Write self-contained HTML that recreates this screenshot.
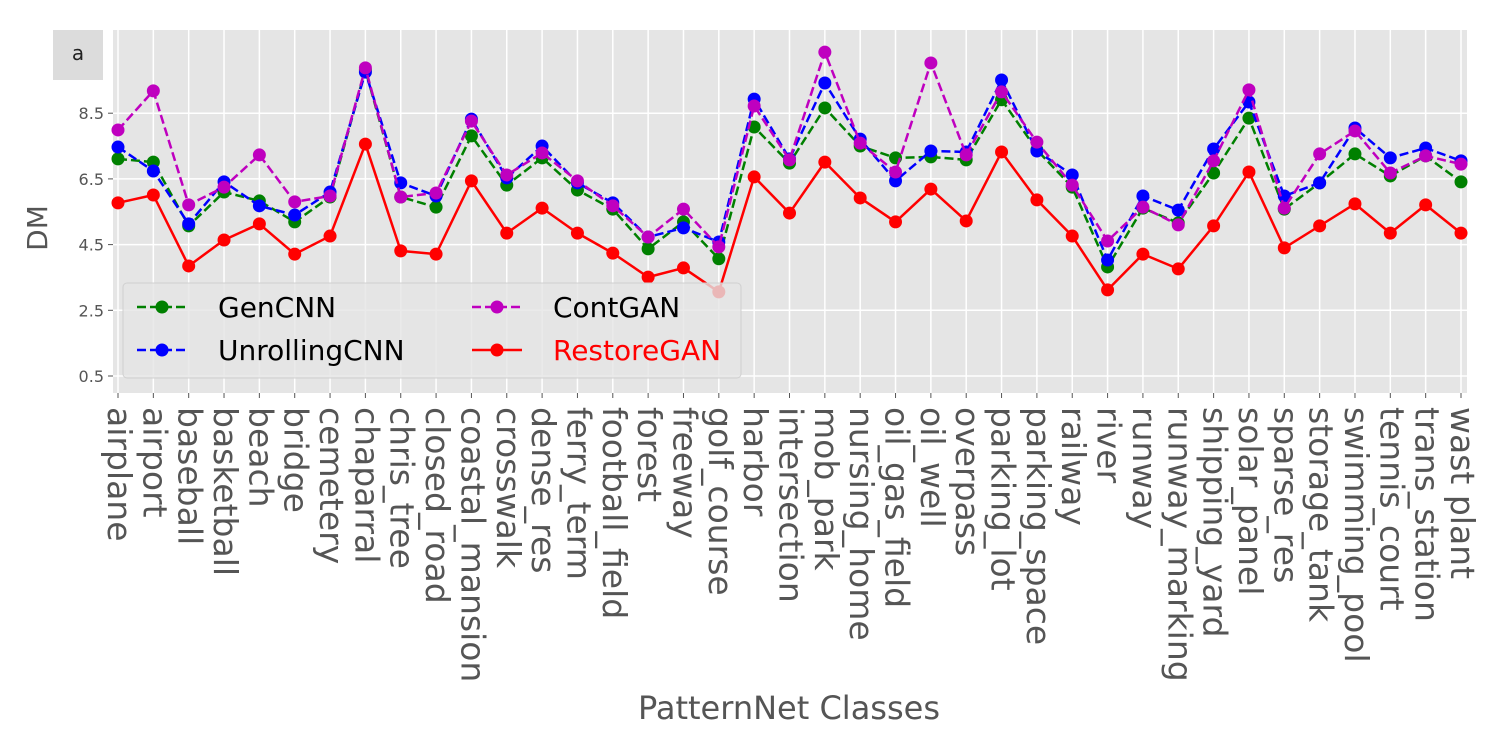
<!DOCTYPE html>
<html><head><meta charset="utf-8"><style>
body{margin:0;background:#fff;}
svg text{font-family:"DejaVu Sans","Liberation Sans",sans-serif;}
</style></head><body>
<svg id="chart" width="1500" height="750" xmlns="http://www.w3.org/2000/svg">
<rect x="53" y="30" width="50" height="50" fill="#dcdcdc"/>
<text x="78" y="60" font-size="20" text-anchor="middle" fill="#222">a</text>
<rect x="113" y="30" width="1354" height="363" fill="#e5e5e5"/>
<g id="grid"></g><g id="series"></g><g id="ticks"></g>
<text x="47" y="228" font-size="28" fill="#555" text-anchor="middle" transform="rotate(-90 47 228)">DM</text>
<text x="789" y="719" font-size="32" fill="#555" text-anchor="middle">PatternNet Classes</text>
<g>
<rect x="123" y="283" width="618" height="95" rx="4" fill="rgba(229,229,229,0.8)" stroke="#d0d0d0"/>
<g><line x1="137" y1="307" x2="187" y2="307" stroke="green" stroke-width="2.5" stroke-dasharray="9,4"/><circle cx="162" cy="307" r="6.5" fill="green"/><text x="218" y="317" font-size="28" fill="#000">GenCNN</text></g>
<g><line x1="137" y1="350" x2="187" y2="350" stroke="blue" stroke-width="2.5" stroke-dasharray="9,4"/><circle cx="162" cy="350" r="6.5" fill="blue"/><text x="218" y="360" font-size="28" fill="#000">UnrollingCNN</text></g>
<g><line x1="472" y1="307" x2="522" y2="307" stroke="#bf00bf" stroke-width="2.5" stroke-dasharray="9,4"/><circle cx="497" cy="307" r="6.5" fill="#bf00bf"/><text x="553" y="317" font-size="28" fill="#000">ContGAN</text></g>
<g><line x1="472" y1="350" x2="522" y2="350" stroke="red" stroke-width="2.5"/><circle cx="497" cy="350" r="6.5" fill="red"/><text x="553" y="360" font-size="28" fill="red">RestoreGAN</text></g>
</g>
</svg>
<script>
const categories=["airplane","airport","baseball","basketball","beach","bridge","cemetery","chaparral","chris_tree","closed_road","coastal_mansion","crosswalk","dense_res","ferry_term","football_field","forest","freeway","golf_course","harbor","intersection","mob_park","nursing_home","oil_gas_field","oil_well","overpass","parking_lot","parking_space","railway","river","runway","runway_marking","shipping_yard","solar_panel","sparse_res","storage_tank","swimming_pool","tennis_court","trans_station","wast plant"];
const genCNN=[7.11,7.01,5.07,6.10,5.83,5.19,5.95,9.82,5.95,5.64,7.81,6.31,7.14,6.16,5.58,4.37,5.19,4.07,8.08,6.98,8.66,7.50,7.14,7.17,7.08,8.91,7.38,6.25,3.82,5.61,5.16,6.68,8.35,5.58,6.38,7.26,6.59,7.20,6.41];
const unrollingCNN=[7.47,6.74,5.13,6.41,5.68,5.40,6.10,9.75,6.38,5.98,8.32,6.53,7.50,6.38,5.77,4.73,5.01,4.58,8.93,7.11,9.42,7.71,6.44,7.35,7.32,9.51,7.35,6.62,4.03,5.98,5.55,7.41,8.84,5.98,6.38,8.05,7.14,7.44,7.05];
const contGAN=[7.99,9.18,5.71,6.25,7.23,5.80,5.98,9.88,5.95,6.07,8.26,6.62,7.29,6.44,5.68,4.73,5.58,4.43,8.72,7.08,10.36,7.59,6.71,10.03,7.23,9.15,7.62,6.31,4.61,5.64,5.10,7.05,9.21,5.61,7.26,7.96,6.68,7.20,6.95];
const restoreGAN=[5.77,6.01,3.85,4.64,5.13,4.21,4.76,7.56,4.31,4.21,6.44,4.85,5.61,4.85,4.24,3.51,3.79,3.06,6.56,5.46,7.01,5.92,5.19,6.19,5.22,7.32,5.86,4.76,3.12,4.21,3.76,5.07,6.71,4.40,5.07,5.74,4.85,5.71,4.85];
const yTicks=["0.5","2.5","4.5","6.5","8.5"];
const NS="http://www.w3.org/2000/svg";
function xs(i){return 118+i*(1461-118)/(categories.length-1);}
function ys(v){return 376-(v-0.5)*32.85;}
function mk(tag,attrs,parent){const e=document.createElementNS(NS,tag);for(const k in attrs)e.setAttribute(k,attrs[k]);parent.appendChild(e);return e;}
const grid=document.getElementById('grid'),ticks=document.getElementById('ticks'),ser=document.getElementById('series');
yTicks.forEach(t=>{const y=ys(parseFloat(t));
 const g=mk('line',{x1:113,x2:1467,y1:y,y2:y,stroke:'#fff','stroke-width':1.5},grid);
 
 
 mk('line',{x1:108,x2:113,y1:y,y2:y,stroke:'#555','stroke-width':1},ticks);
 const tx=mk('text',{x:104,y:y+6,'font-size':16,fill:'#555','text-anchor':'end'},ticks);tx.textContent=t;
 
 
});
categories.forEach((c,i)=>{const x=xs(i);
 const g=mk('line',{x1:x,x2:x,y1:30,y2:393,stroke:'#fff','stroke-width':1.5},grid);
 
 
 mk('line',{x1:x,x2:x,y1:393,y2:398,stroke:'#555','stroke-width':1},ticks);
 const tx=mk('text',{x:0,y:0,'font-size':33,fill:'#555',transform:`translate(${x-10},407) rotate(90)`},ticks);
 tx.textContent=c;
 
 
});
const seriesDefs=[["gencnn",genCNN,"green",true],["unrollingcnn",unrollingCNN,"blue",true],["contgan",contGAN,"#bf00bf",true],["restoregan",restoreGAN,"red",false]];
seriesDefs.forEach(([name,vals,col,dash])=>{
 const g=mk('g',{},ser);
 
 
 const pts=vals.map((v,i)=>xs(i)+','+ys(v)).join(' ');
 const attrs={points:pts,fill:'none',stroke:col,'stroke-width':2.5,'stroke-linejoin':'round'};
 if(dash)attrs['stroke-dasharray']='9,4';
 const pl=mk('polyline',attrs,g);
 
 
 vals.forEach((v,i)=>{const c=mk('circle',{cx:xs(i),cy:ys(v),r:6.5,fill:col},g);
  
  });
});
</script>
</body></html>
